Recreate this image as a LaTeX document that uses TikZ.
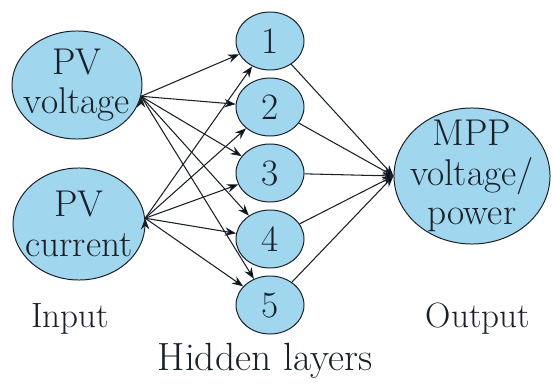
\documentclass[tikz,border=0pt]{standalone}
\usetikzlibrary{shapes.geometric, arrows.meta}
\definecolor{cellblue}{RGB}{160,214,238}
\definecolor{inkdark}{RGB}{25,32,40}

\begin{document}
\begin{tikzpicture}[x=0.025cm, y=-0.025cm]

\tikzset{vertex/.style = {shape=ellipse, draw=inkdark, fill=cellblue, line width=0.7pt, inner sep=0pt, text=inkdark, font=\fontsize{26.5}{28}\selectfont}}
\tikzset{inside/.style = {align=center, text=inkdark, font=\fontsize{26.5}{28}\selectfont}}
\tikzset{edge/.style = {-{Stealth[length=8pt,width=6pt]}, line width=0.75pt, draw=inkdark}}
\tikzset{caption/.style = {anchor=base, text=inkdark, font=\fontsize{25}{28}\selectfont}}

\useasboundingbox (0,0) rectangle (553,387);
%inputs
\node[vertex, minimum width=3.25cm, minimum height=2.7cm, label={[inside]center:PV\\voltage}] (pv) at (77,85) {};
\node[vertex, minimum width=3.3cm, minimum height=2.8cm, label={[inside]center:PV\\current}] (pc) at (79,224) {};
%hidden
\node[vertex, minimum width=1.7cm, minimum height=1.45cm] (1) at (270,41) {1};
\node[vertex, minimum width=1.7cm, minimum height=1.45cm] (2) at (270,107) {2};
\node[vertex, minimum width=1.7cm, minimum height=1.45cm] (3) at (270,173) {3};
\node[vertex, minimum width=1.7cm, minimum height=1.45cm] (4) at (270,239) {4};
\node[vertex, minimum width=1.7cm, minimum height=1.45cm] (5) at (270,305) {5};
%output
\node[vertex, minimum width=3.9cm, minimum height=3.4cm, label={[inside]center:MPP\\voltage/\\power}] (mpp) at (472,176) {};
%captions
\node[caption] (in) at (70,327) {Input};
\node[caption] (out) at (478,327) {Output};
\node[caption, font=\fontsize{28}{30}\selectfont] (hid) at (265,370) {Hidden layers};
%edges
\path [edge] (pv.-10) edge (1) edge (2) edge (3) edge (4) edge (5);
\path [edge] (pc.5) edge (1) edge (2) edge (3) edge (4) edge (5);
\path [edge] (1) edge (mpp.west);
\path [edge] (2) edge (mpp.west);
\path [edge] (3) edge (mpp.west);
\path [edge] (4) edge (mpp.west);
\path [edge] (5) edge (mpp.west);

\end{tikzpicture}
\end{document}
